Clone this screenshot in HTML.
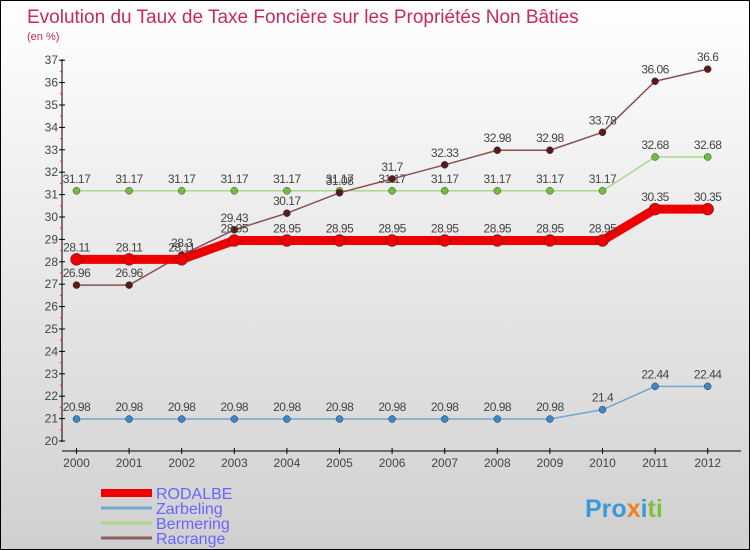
<!DOCTYPE html>
<html><head><meta charset="utf-8"><style>
body{margin:0}
#c{width:750px;height:550px;position:relative;overflow:hidden;box-sizing:border-box;border:1px solid #000;background:linear-gradient(#ffffff,#d0d0d0);font-family:"Liberation Sans",sans-serif}
</style></head><body>
<div id="c">
<svg id="s" width="750" height="550" style="position:absolute;left:0;top:0">
<text x="26" y="22" font-size="19" fill="#c8285f">Evolution du Taux de Taxe Foncière sur les Propriétés Non Bâties</text>
<text x="26" y="39" font-size="11" fill="#c8285f">(en %)</text>
<g id="ax"></g><g id="ser"></g><g id="leg"></g>
<text x="584" y="516" font-size="25" font-weight="bold" fill="#3a9ad9">Pro<tspan fill="#f08020">x</tspan><tspan fill="#3a9ad9">i</tspan><tspan fill="#80c040">ti</tspan></text>
</svg>
</div>
<script>
const years=[2000,2001,2002,2003,2004,2005,2006,2007,2008,2009,2010,2011,2012];
const rodalbe=[28.11,28.11,28.11,28.95,28.95,28.95,28.95,28.95,28.95,28.95,28.95,30.35,30.35];
const zarbeling=[20.98,20.98,20.98,20.98,20.98,20.98,20.98,20.98,20.98,20.98,21.4,22.44,22.44];
const bermering=[31.17,31.17,31.17,31.17,31.17,31.17,31.17,31.17,31.17,31.17,31.17,32.68,32.68];
const racrange=[26.96,26.96,28.3,29.43,30.17,31.08,31.7,32.33,32.98,32.98,33.78,36.06,36.6];
const yTicks=[20,21,22,23,24,25,26,27,28,29,30,31,32,33,34,35,36,37];
const NS="http://www.w3.org/2000/svg";
const X=i=>75.5+i*52.6;
const Y=v=>440-(v-20)*22.4;
function mk(t,a,p){const e=document.createElementNS(NS,t);for(const k in a)e.setAttribute(k,a[k]);p.appendChild(e);return e;}
const ax=document.getElementById('ax');
let e=mk('line',{x1:61,y1:58,x2:61,y2:441,stroke:'#000'},ax);


e=mk('line',{x1:61,y1:450,x2:740,y2:450,stroke:'#000'},ax);


yTicks.forEach(v=>{
 mk('line',{x1:58,y1:Y(v),x2:64,y2:Y(v),stroke:'#000'},ax);
 if(v<37)mk('line',{x1:59,y1:Y(v+0.5),x2:62,y2:Y(v+0.5),stroke:'#e33'},ax);
 const t=mk('text',{x:57,y:Y(v)+4,'font-size':12,'text-anchor':'end',fill:'#444'},ax);t.textContent=v;
 
 
});
years.forEach((y,i)=>{
 mk('line',{x1:X(i),y1:447,x2:X(i),y2:453,stroke:'#000'},ax);
 const t=mk('text',{x:X(i),y:466,'font-size':12,'text-anchor':'middle',fill:'#444'},ax);t.textContent=y;
 
 
});
const ser=document.getElementById('ser');
function draw(name,vals,color,w,dot,r){
 const g=mk('g',{},ser);
 
 
 mk('polyline',{points:vals.map((v,i)=>X(i)+','+Y(v)).join(' '),fill:'none',stroke:color,'stroke-width':w,'stroke-linejoin':'round'},g);
 vals.forEach((v,i)=>{
  const c=mk('circle',{cx:X(i),cy:Y(v),r:r,fill:dot,stroke:'#333','stroke-width':0.5},g);
  
  
  const t=mk('text',{x:X(i),y:Y(v)-8,'font-size':12,'text-anchor':'middle',fill:'#444','letter-spacing':'-0.5'},g);t.textContent=v;
  
  
 });
}
draw('bermering',bermering,'#a8d888',1.5,'#70c040',3.5);
draw('zarbeling',zarbeling,'#70a8d0',1.5,'#3a88c8',3.5);
draw('racrange',racrange,'#8a5050',1.5,'#5a1a1a',3.5);
draw('rodalbe',rodalbe,'#ee0000',9,'#ee0000',6);
const leg=document.getElementById('leg');
const L=[['RODALBE','#ee0000',8],['Zarbeling','#70a8d0',3],['Bermering','#a8d888',3],['Racrange','#8a6060',3]];
L.forEach((d,i)=>{
 const y=492+i*15;
 const g=mk('g',{},leg);
 
 
 mk('line',{x1:100,y1:y,x2:151,y2:y,stroke:d[1],'stroke-width':d[2]},g);
 const t=mk('text',{x:155,y:y+6,'font-size':16,fill:'#6666ff'},g);t.textContent=d[0];
});
</script>
</body></html>
